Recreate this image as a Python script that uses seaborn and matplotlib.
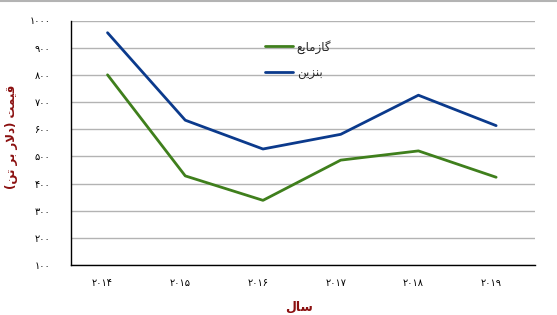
import matplotlib
matplotlib.use("Agg")
import matplotlib.pyplot as plt
import matplotlib.lines as mlines
import matplotlib.transforms as mtransforms
import seaborn as sns
import pandas as pd

# ---- data ----
years = ["۲۰۱۴", "۲۰۱۵", "۲۰۱۶", "۲۰۱۷", "۲۰۱۸", "۲۰۱۹"]
lpg = [800, 428, 338, 486, 520, 423]        # گازمایع
gasoline = [955, 633, 527, 581, 725, 613]   # بنزین
y_ticks = [100, 200, 300, 400, 500, 600, 700, 800, 900, 1000]
y_tick_labels = ["۱۰۰", "۲۰۰", "۳۰۰", "۴۰۰", "۵۰۰", "۶۰۰", "۷۰۰", "۸۰۰", "۹۰۰", "۱۰۰۰"]

# shaped (visual-order) Persian strings
name_lpg = "\uFECA\uFEF3\uFE8E\uFEE3\uFEAF\uFE8E\uFB94"        # گازمایع
name_gas = "\uFEE6\uFEF3\uFEB0\uFEE8\uFE91"                    # بنزین
xlabel = "\uFEDD\uFE8E\uFEB3"                                   # سال
ylabel = ("(" + "\uFEE6\uFE97" + " " + "\uFEAE\uFE91" + " " +
          "\uFEAD\uFEFB\uFEA9" + ")" + " " + "\uFE96\uFEE4\uFEF4\uFED7")  # قیمت (دلار بر تن)

df = pd.DataFrame({
    "x": list(range(len(years))) * 2,
    "value": lpg + gasoline,
    "series": [name_lpg] * len(years) + [name_gas] * len(years),
})

sns.set_theme(style="white")
plt.rcParams["font.family"] = ["DejaVu Sans"]

fig = plt.figure(figsize=(5.57, 3.15), dpi=100)
ax = fig.add_axes([71 / 557, 1 - 265 / 315, (535 - 71) / 557, (265 - 20.5) / 315])

palette = {name_lpg: "#3f7f1c", name_gas: "#0b3a8c"}
sns.lineplot(data=df, x="x", y="value", hue="series", palette=palette,
             linewidth=2.0, ax=ax, legend=False)

ax.set_xlim(-0.47, len(years) - 0.5)
ax.set_ylim(100, 1000)
ax.set_yticks(y_ticks)
ax.set_yticklabels(y_tick_labels)
ax.set_xticks(range(len(years)))
ax.set_xticklabels(years)
ax.tick_params(axis="y", length=0, pad=15, labelsize=7, colors="black")
ax.tick_params(axis="x", length=0, pad=9, labelsize=7, colors="black")
shift = mtransforms.ScaledTranslation(-5 / 100, 0, fig.dpi_scale_trans)
for lab in ax.get_xticklabels():
    lab.set_transform(lab.get_transform() + shift)
ax.yaxis.grid(True, color="#b3b3b3", linewidth=1.0)
ax.xaxis.grid(False)
ax.set_axisbelow(True)
for s in ["top", "right"]:
    ax.spines[s].set_visible(False)
for s in ["left", "bottom"]:
    ax.spines[s].set_color("black")
    ax.spines[s].set_linewidth(1.0)

ax.set_xlabel(xlabel, color="#8b1010", fontsize=9, fontweight="bold")
ax.xaxis.set_label_coords((299 - 71) / 464, -(307 - 265) / 244.5, transform=None)
ax.xaxis.label.set_transform(ax.transAxes)
ax.xaxis.label.set_va("center")
ax.set_ylabel(ylabel, color="#8b1010", fontsize=8.5, fontweight="bold")
ax.yaxis.set_label_coords(-(71 - 11.5) / 464, (265 - 137) / 244.5)
ax.yaxis.label.set_va("center")

handles = [mlines.Line2D([], [], color=palette[name_lpg], linewidth=2.0),
           mlines.Line2D([], [], color=palette[name_gas], linewidth=2.0)]
leg = ax.legend(handles, [name_lpg, name_gas], loc="upper left",
                bbox_to_anchor=(0.395, 0.965), frameon=False, fontsize=8.5,
                handlelength=2.4, handletextpad=0.3, labelspacing=1.1)

# top border of the picture
fig.add_artist(mlines.Line2D([0, 1], [1 - 0.5 / 315, 1 - 0.5 / 315],
                             transform=fig.transFigure, color="#b3b3b3", linewidth=1.5))

fig.savefig("out.png", dpi=100)
